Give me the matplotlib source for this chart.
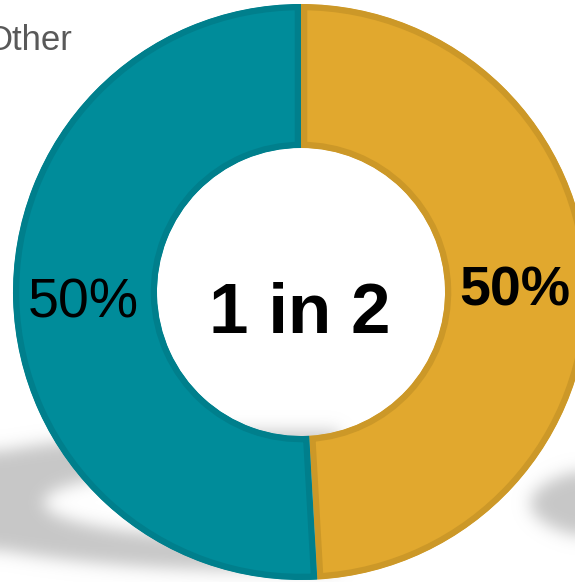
import numpy as np
import matplotlib
matplotlib.use("Agg")
import matplotlib.pyplot as plt

# ---- data ----
categories = ["Selected", "Other"]
values = [49.1, 50.9]          # gold slice slightly smaller than half
slice_labels = ["50%", "50%"]
center_text = "1 in 2"
legend_text = "Other"

# ---- style ----
fills = ["#E1A82E", "#008C9A"]
edges = ["#CC9828", "#007F8C"]

W, H = 575, 582
fig = plt.figure(figsize=(W / 100, H / 100), dpi=100)
ax = fig.add_axes([0, 0, 1, 1])

# ---- soft shadows (decoration) ----
yy, xx = np.mgrid[0:H, 0:W].astype(float)
def ell(cx, cy, a, b):
    return ((xx - cx) / a) ** 2 + ((yy - cy) / b) ** 2 <= 1.0
left = np.zeros((H, W))
left[ell(270, 500, 380, 70) & ~ell(270, 502, 227, 37)] = 1.0
left[:, 340:] = 0.0
right = np.zeros((H, W))
right[ell(645, 503, 115, 40)] = 1.0
field = np.maximum(left, right)
sig = 8.0
k = np.arange(-30, 31)
g = np.exp(-0.5 * (k / sig) ** 2); g /= g.sum()
pad = 40
fp = np.pad(field, pad, mode="edge")
fp = np.apply_along_axis(lambda r: np.convolve(r, g, mode="same"), 1, fp)
fp = np.apply_along_axis(lambda c: np.convolve(c, g, mode="same"), 0, fp)
field = fp[pad:-pad, pad:-pad]
rgba = np.zeros((H, W, 4))
rgba[..., :3] = 0.77
rgba[..., 3] = field * 0.95
ax.imshow(rgba, extent=(0, W, 0, H), origin="upper", zorder=0, interpolation="bilinear")

# ---- donut ----
cx, cy = 301, H - 292
R = 288
wedges, _ = ax.pie(values, colors=fills, startangle=90, counterclock=False,
                   radius=R, center=(cx, cy),
                   wedgeprops=dict(width=R * 0.5, linewidth=9))
for w, ec in zip(wedges, edges):
    w.set_edgecolor(ec)
    w.set_clip_on(True)
    w.set_clip_path(w)
    w.set_zorder(2)

# ---- texts ----
ax.text(514.5, H - 305, slice_labels[0], ha="center", va="baseline",
        fontsize=40, fontweight="bold", family="Liberation Sans", color="black", zorder=3)
ax.text(83.5, H - 318, slice_labels[1], ha="center", va="baseline",
        fontsize=40, family="Liberation Sans", color="black", zorder=3)
ax.text(299.5, H - 333, center_text, ha="center", va="baseline",
        fontsize=51, fontweight="bold", family="Liberation Sans", color="black", zorder=3)
ax.text(-15, H - 50, legend_text, ha="left", va="baseline",
        fontsize=25, family="Liberation Sans", color="#595959", zorder=3)

ax.set_xlim(0, W)
ax.set_ylim(0, H)
ax.set_aspect("auto")
ax.axis("off")
fig.savefig("out.png", dpi=100, facecolor="white")
